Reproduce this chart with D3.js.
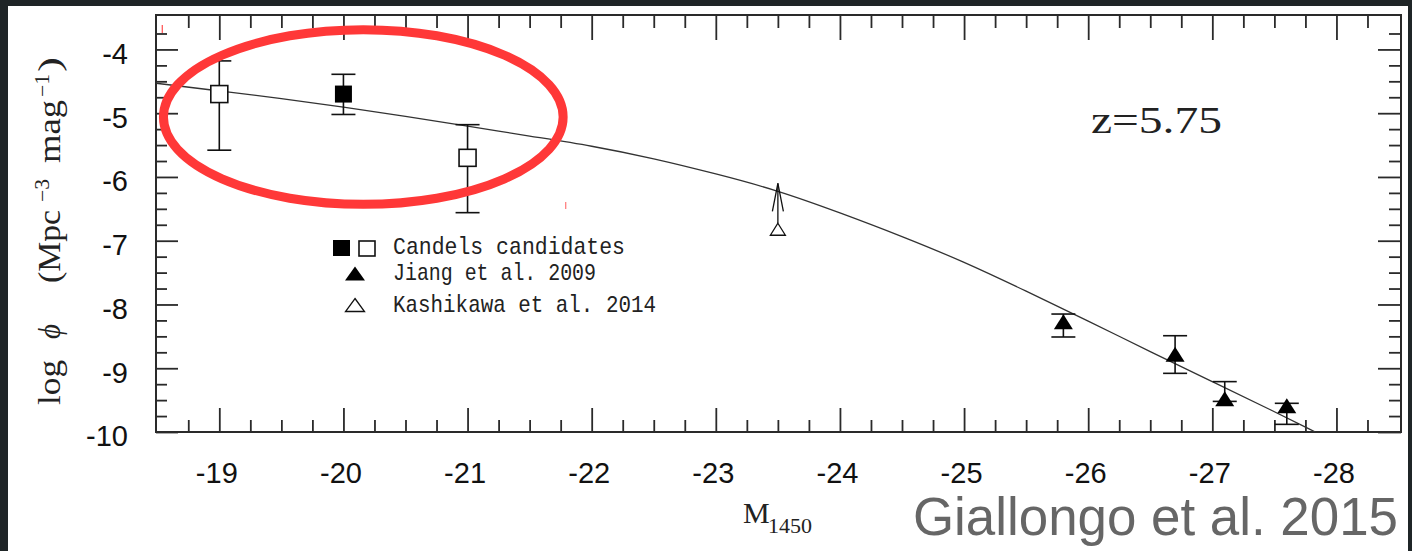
<!DOCTYPE html>
<html>
<head>
<meta charset="utf-8">
<script src="https://cdn.jsdelivr.net/npm/d3@7"></script>
<style>
  html, body { margin: 0; padding: 0; background: #1f2527; }
  svg { display: block; }
</style>
</head>
<body>
<svg id="chart" width="1412" height="551"></svg>
<script>
// QSO/AGN UV luminosity function at z = 5.75 (log phi vs M_1450)

// CANDELS candidates: filled and open squares with error bars
const candelsFilledM   = [-20.0];
const candelsFilledPhi = [-4.70];
const candelsFilledLo  = [-5.02];
const candelsFilledHi  = [-4.39];

const candelsOpenM   = [-19.0, -21.0];
const candelsOpenPhi = [-4.70, -5.70];
const candelsOpenLo  = [-5.58, -6.56];
const candelsOpenHi  = [-4.18, -5.18];

// Jiang et al. 2009 (filled triangles)
const jiangM   = [-25.8, -26.7, -27.1, -27.6];
const jiangPhi = [-8.27, -8.78, -9.48, -9.59];
const jiangLo  = [-8.51, -9.08, -9.52, -9.88];
const jiangHi  = [-8.15, -8.49, -9.21, -9.55];

// Kashikawa et al. 2014 (open triangle with an upward limit arrow)
const kashikawaM     = [-23.5];
const kashikawaPhi   = [-6.82];
const kashikawaLimit = [-6.10];

// Double power-law fit
const fitM   = [-18.49, -19.0, -19.5, -20.0, -20.5, -21.0, -21.5, -22.0, -22.5, -23.0,
                -23.5, -24.0, -24.5, -25.0, -25.5, -26.0, -26.5, -27.0, -27.5, -27.83];
const fitPhi = [-4.53, -4.65, -4.77, -4.90, -5.05, -5.20, -5.36, -5.51, -5.71, -5.95,
                -6.21, -6.56, -6.93, -7.33, -7.79, -8.26, -8.74, -9.21, -9.68, -10.0];

// Axis ticks
const xTickValues = [-19, -20, -21, -22, -23, -24, -25, -26, -27, -28];
const xTickLabels = ["-19", "-20", "-21", "-22", "-23", "-24", "-25", "-26", "-27", "-28"];
const yTickValues = [-4, -5, -6, -7, -8, -9, -10];
const yTickLabels = ["-4", "-5", "-6", "-7", "-8", "-9", "-10"];

const legendLabels = ["Candels candidates", "Jiang et al. 2009", "Kashikawa et al. 2014"];

// Highlight ellipse around the faint-end candidates (data units)
const highlightCenter = [-20.16, -5.06];
const highlightRadius = [1.61, 1.37];

// ---------------------------------------------------------------
const svg = d3.select("#chart");
const plot = { left: 156, top: 15, right: 1401, bottom: 432 };
const ink = "#2a2a2a";

svg.append("rect")
  .attr("x", 8).attr("y", 6).attr("width", 1400).attr("height", 545)
  .attr("fill", "#ffffff");

const x = d3.scaleLinear().domain([-18.49, -28.52]).range([plot.left, plot.right]);
const y = d3.scaleLinear().domain([-10, -3.46]).range([plot.bottom, plot.top]);

const xMinor = d3.range(75, 114).filter(k => k % 4 !== 0).map(k => -k / 4);
const yMinor = d3.range(15, 40).filter(k => k % 4 !== 0).map(k => -k / 4);

function styleAxis(g) {
  g.select(".domain").remove();
  g.attr("color", ink);
  g.selectAll(".tick line").attr("stroke-width", 1.8);
  g.selectAll(".tick text")
    .attr("font-family", "'Liberation Sans', Arial, sans-serif")
    .attr("font-size", 29)
    .attr("fill", "#111");
}

// bottom
svg.append("g").attr("transform", `translate(0,${plot.bottom})`)
  .call(d3.axisBottom(x).tickValues(xTickValues).tickSizeInner(-24).tickSizeOuter(0)
        .tickPadding(30).tickFormat((d, i) => xTickLabels[i]))
  .call(styleAxis)
  .call(g => g.selectAll(".tick text").attr("dx", -3));
svg.append("g").attr("transform", `translate(0,${plot.bottom})`)
  .call(d3.axisBottom(x).tickValues(xMinor).tickSizeInner(-12).tickSizeOuter(0).tickFormat(""))
  .call(styleAxis);
// top
svg.append("g").attr("transform", `translate(0,${plot.top})`)
  .call(d3.axisTop(x).tickValues(xTickValues).tickSizeInner(-25).tickSizeOuter(0).tickFormat(""))
  .call(styleAxis);
svg.append("g").attr("transform", `translate(0,${plot.top})`)
  .call(d3.axisTop(x).tickValues(xMinor).tickSizeInner(-13).tickSizeOuter(0).tickFormat(""))
  .call(styleAxis);
// left
svg.append("g").attr("transform", `translate(${plot.left},0)`)
  .call(d3.axisLeft(y).tickValues(yTickValues).tickSizeInner(-22).tickSizeOuter(0)
        .tickPadding(28).tickFormat((d, i) => yTickLabels[i]))
  .call(styleAxis)
  .call(g => g.selectAll(".tick text").attr("dy", "0.48em"));
svg.append("g").attr("transform", `translate(${plot.left},0)`)
  .call(d3.axisLeft(y).tickValues(yMinor).tickSizeInner(-11).tickSizeOuter(0).tickFormat(""))
  .call(styleAxis);
// right
svg.append("g").attr("transform", `translate(${plot.right},0)`)
  .call(d3.axisRight(y).tickValues(yTickValues).tickSizeInner(-23).tickSizeOuter(0).tickFormat(""))
  .call(styleAxis);
svg.append("g").attr("transform", `translate(${plot.right},0)`)
  .call(d3.axisRight(y).tickValues(yMinor).tickSizeInner(-12).tickSizeOuter(0).tickFormat(""))
  .call(styleAxis);

// frame
svg.append("rect")
  .attr("x", plot.left).attr("y", plot.top)
  .attr("width", plot.right - plot.left).attr("height", plot.bottom - plot.top)
  .attr("fill", "none").attr("stroke", ink).attr("stroke-width", 2);

// clip for the fit curve
svg.append("clipPath").attr("id", "plotClip").append("rect")
  .attr("x", plot.left).attr("y", plot.top)
  .attr("width", plot.right - plot.left).attr("height", plot.bottom - plot.top);

const fitData = fitM.map((m, i) => [m, fitPhi[i]]);
svg.append("path")
  .datum(fitData)
  .attr("clip-path", "url(#plotClip)")
  .attr("fill", "none")
  .attr("stroke", "#333")
  .attr("stroke-width", 1.3)
  .attr("d", d3.line().x(d => x(d[0])).y(d => y(d[1])).curve(d3.curveBasis));

// error bars
function errorBars(Ms, Lo, Hi) {
  const g = svg.append("g").attr("stroke", "#111").attr("stroke-width", 1.6).attr("fill", "none");
  const capHalf = 12;
  Ms.forEach((m, i) => {
    const cx = x(m);
    g.append("line").attr("x1", cx).attr("x2", cx).attr("y1", y(Hi[i])).attr("y2", y(Lo[i]));
    g.append("line").attr("x1", cx - capHalf).attr("x2", cx + capHalf).attr("y1", y(Hi[i])).attr("y2", y(Hi[i]));
    g.append("line").attr("x1", cx - capHalf).attr("x2", cx + capHalf).attr("y1", y(Lo[i])).attr("y2", y(Lo[i]));
  });
}
errorBars(candelsOpenM, candelsOpenLo, candelsOpenHi);
errorBars(candelsFilledM, candelsFilledLo, candelsFilledHi);
errorBars(jiangM, jiangLo, jiangHi);

// squares
const sq = 17;
svg.append("g").selectAll("rect")
  .data(candelsOpenM.map((m, i) => [m, candelsOpenPhi[i]]))
  .join("rect")
  .attr("x", d => x(d[0]) - sq / 2).attr("y", d => y(d[1]) - sq / 2)
  .attr("width", sq).attr("height", sq)
  .attr("fill", "#fff").attr("stroke", "#111").attr("stroke-width", 1.6);
svg.append("g").selectAll("rect")
  .data(candelsFilledM.map((m, i) => [m, candelsFilledPhi[i]]))
  .join("rect")
  .attr("x", d => x(d[0]) - sq / 2).attr("y", d => y(d[1]) - sq / 2)
  .attr("width", sq).attr("height", sq)
  .attr("fill", "#000");

// triangles
const tri = (w, h) => `M0,${-h / 2}L${w / 2},${h / 2}L${-w / 2},${h / 2}Z`;
svg.append("g").selectAll("path")
  .data(jiangM.map((m, i) => [m, jiangPhi[i]]))
  .join("path")
  .attr("transform", d => `translate(${x(d[0])},${y(d[1])})`)
  .attr("d", tri(19, 15))
  .attr("fill", "#000");

// Kashikawa point with upward arrow
const kg = svg.append("g").attr("stroke", "#111").attr("fill", "none").attr("stroke-width", 1.3);
kashikawaM.forEach((m, i) => {
  const cx = x(m), cy = y(kashikawaPhi[i]), tip = y(kashikawaLimit[i]);
  kg.append("path").attr("transform", `translate(${cx},${cy})`).attr("d", tri(15, 12)).attr("fill", "#fff");
  kg.append("line").attr("x1", cx).attr("x2", cx).attr("y1", cy - 6).attr("y2", tip);
  kg.append("path").attr("d", `M${cx - 5.5},${tip + 28}L${cx},${tip}L${cx + 5.5},${tip + 28}`);
});

// highlight ellipse
svg.append("ellipse")
  .attr("cx", x(highlightCenter[0])).attr("cy", y(highlightCenter[1]))
  .attr("rx", x(highlightCenter[0] - highlightRadius[0]) - x(highlightCenter[0]))
  .attr("ry", y(highlightCenter[1] - highlightRadius[1]) - y(highlightCenter[1]))
  .attr("fill", "none").attr("stroke", "#ff3838").attr("stroke-width", 9);

// small red marks
svg.append("line").attr("x1", 162.3).attr("x2", 162.3).attr("y1", 25).attr("y2", 33)
  .attr("stroke", "#ff5a5a").attr("stroke-width", 1.3);
svg.append("line").attr("x1", 565.7).attr("x2", 565.7).attr("y1", 202).attr("y2", 209)
  .attr("stroke", "#ff8080").attr("stroke-width", 1.3);

// legend
const lg = svg.append("g");
lg.append("rect").attr("x", 333).attr("y", 240).attr("width", 17).attr("height", 16).attr("fill", "#000");
lg.append("rect").attr("x", 359).attr("y", 241).attr("width", 16).attr("height", 15)
  .attr("fill", "#fff").attr("stroke", "#111").attr("stroke-width", 1.6);
lg.append("path").attr("transform", "translate(355,273.5)").attr("d", tri(20, 14)).attr("fill", "#000");
lg.append("path").attr("transform", "translate(355,305)").attr("d", tri(19, 13))
  .attr("fill", "#fff").attr("stroke", "#111").attr("stroke-width", 1.3);
const legendBase = [253.5, 280, 311.5];
const legendWidth = [232, 203, 263];
lg.selectAll("text").data(legendLabels).join("text")
  .attr("x", 393).attr("y", (d, i) => legendBase[i])
  .attr("textLength", (d, i) => legendWidth[i]).attr("lengthAdjust", "spacingAndGlyphs")
  .attr("font-family", "'Liberation Mono', 'Courier New', monospace")
  .attr("font-size", 24).attr("fill", "#222")
  .text(d => d);

// redshift label
svg.append("text")
  .attr("x", 1091).attr("y", 133)
  .attr("textLength", 131).attr("lengthAdjust", "spacingAndGlyphs")
  .attr("font-family", "'Liberation Serif', 'Times New Roman', serif")
  .attr("font-size", 37).attr("fill", "#222")
  .text("z=5.75");

// y-axis title, drawn piece by piece along the rotated baseline
const serif = "'Liberation Serif', 'DejaVu Serif', 'Times New Roman', serif";
const yt = svg.append("g")
  .attr("transform", "translate(60,405) rotate(-90)")
  .attr("font-family", serif).attr("fill", "#222");
const yTitleParts = [
  { t: "log",  x: 0,   y: 0,   size: 31, len: 45 },
  { t: "ϕ",    x: 66,  y: 0,   size: 31, len: 15, italic: true },
  { t: "(Mpc", x: 122, y: 0,   size: 31, len: 73 },
  { t: "−3",   x: 203, y: -11, size: 20, len: 23 },
  { t: "mag",  x: 242, y: 0,   size: 31, len: 63 },
  { t: "−1",   x: 308, y: -11, size: 20, len: 23 },
  { t: ")",    x: 333, y: 0,   size: 31, len: 15 }
];
yt.selectAll("text").data(yTitleParts).join("text")
  .attr("x", d => d.x).attr("y", d => d.y)
  .attr("font-size", d => d.size)
  .attr("font-style", d => d.italic ? "italic" : null)
  .attr("textLength", d => d.len).attr("lengthAdjust", "spacingAndGlyphs")
  .text(d => d.t);

// x-axis title
const xt = svg.append("text")
  .attr("font-family", serif)
  .attr("fill", "#222");
xt.append("tspan").attr("x", 743).attr("y", 523).attr("font-size", 30).text("M");
xt.append("tspan").attr("x", 768).attr("y", 533).attr("font-size", 22).text("1450");

// citation
svg.append("text")
  .attr("x", 913).attr("y", 535)
  .attr("textLength", 485).attr("lengthAdjust", "spacingAndGlyphs")
  .attr("font-family", "'Liberation Sans', Arial, sans-serif")
  .attr("font-size", 54).attr("fill", "#666")
  .text("Giallongo et al. 2015");
</script>
</body>
</html>
